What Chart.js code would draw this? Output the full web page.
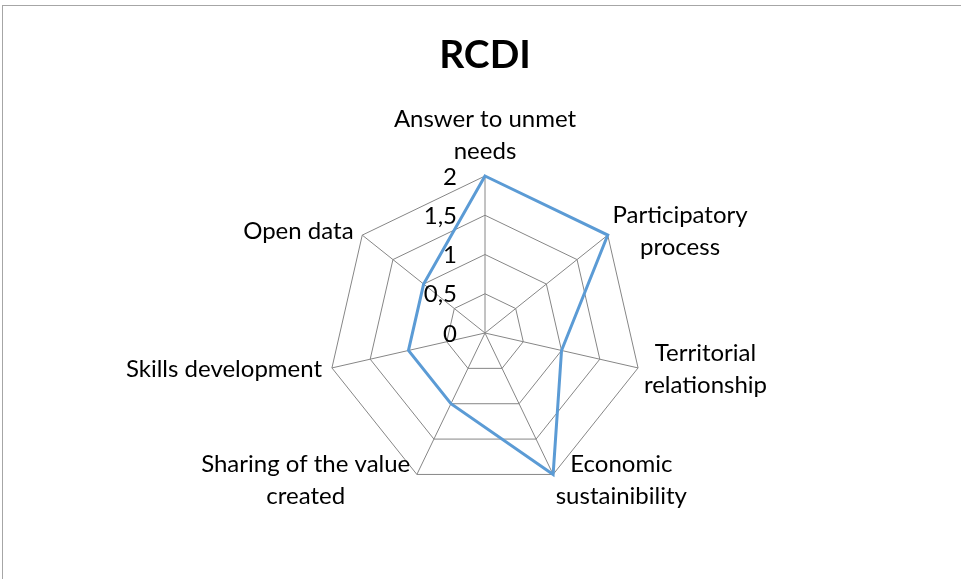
<!DOCTYPE html>
<html>
<head>
<meta charset="utf-8">
<script src="https://cdn.jsdelivr.net/npm/chart.js@4.4.1/dist/chart.umd.min.js"></script>
<style>
  html, body { margin: 0; padding: 0; background: #fff; overflow: hidden; }
  #wrap { position: relative; width: 961px; height: 579px; }
  #frame { position: absolute; left: 2px; top: 5px; width: 2000px; height: 2000px; border: 1px solid #a6a6a6; box-sizing: border-box; }
  canvas { position: absolute; left: 0; top: 0; }
</style>
</head>
<body>
<div id="wrap">
  <div id="frame"></div>
  <canvas id="radar" width="961" height="579"></canvas>
</div>
<script>
const categories = [
    ['Answer to unmet', 'needs'],
    ['Participatory', 'process'],
    ['Territorial', 'relationship'],
    ['Economic', 'sustainibility'],
    ['Sharing of the value', 'created'],
    ['Skills development'],
    ['Open data']
];
const rcdiValues = [2, 2, 1, 2, 1, 1, 1];
const tickValues = [0, 0.5, 1, 1.5, 2];
const tickLabels = ['0', '0,5', '1', '1,5', '2'];

const FONT = 'Lato, "Open Sans", sans-serif';

// Excel-like labels: tick text left of the vertical axis, category text centred per block
const excelLabels = {
    id: 'excelLabels',
    afterDraw(chart) {
        const scale = chart.scales.r;
        const ctx = chart.ctx;
        ctx.save();
        ctx.fillStyle = '#000';
        ctx.font = '24px ' + FONT;

        // tick labels
        ctx.textAlign = 'right';
        ctx.textBaseline = 'middle';
        tickValues.forEach((v, i) => {
            const d = scale.getDistanceFromCenterForValue(v);
            ctx.fillText(tickLabels[i], scale.xCenter - 28, scale.yCenter - d + 1);
        });

        // category labels
        const lineH = 32;
        ctx.textAlign = 'center';
        ctx.textBaseline = 'middle';
        categories.forEach((lines, i) => {
            const p = scale.getPointPosition(i, scale.drawingArea + 6);
            const w = Math.max(...lines.map(l => ctx.measureText(l).width));
            const h = lines.length * lineH;
            let cx, top;
            if (Math.abs(p.x - scale.xCenter) < 2) {
                cx = p.x;
                top = p.y - 3 - h;
            } else if (p.x > scale.xCenter) {
                cx = p.x + w / 2;
                top = p.y - h / 2;
            } else {
                cx = p.x - 4 - w / 2;
                top = p.y - h / 2;
            }
            lines.forEach((l, j) => ctx.fillText(l, cx, top + lineH * j + lineH / 2));
        });
        ctx.restore();
    }
};

new Chart(document.getElementById('radar'), {
    type: 'radar',
    data: {
        labels: categories,
        datasets: [{
            label: 'RCDI',
            data: rcdiValues,
            borderColor: '#5b9bd5',
            borderWidth: 3,
            backgroundColor: 'rgba(0,0,0,0)',
            fill: false,
            pointRadius: 0,
            tension: 0
        }]
    },
    options: {
        responsive: false,
        animation: false,
        layout: { padding: { left: 328, right: 319, top: 0, bottom: 88 } },
        plugins: {
            legend: { display: false },
            tooltip: { enabled: false },
            title: {
                display: true,
                text: 'RCDI',
                color: '#000',
                font: { family: FONT, size: 39, weight: 'bold', lineHeight: 1.2 },
                padding: { top: 32, bottom: 98 }
            }
        },
        scales: {
            r: {
                min: 0,
                max: 2,
                ticks: { display: false, stepSize: 0.5 },
                grid: { color: '#868686', lineWidth: 1 },
                angleLines: { color: '#868686', lineWidth: 1 },
                pointLabels: { display: false }
            }
        }
    },
    plugins: [excelLabels]
});
</script>
</body>
</html>
